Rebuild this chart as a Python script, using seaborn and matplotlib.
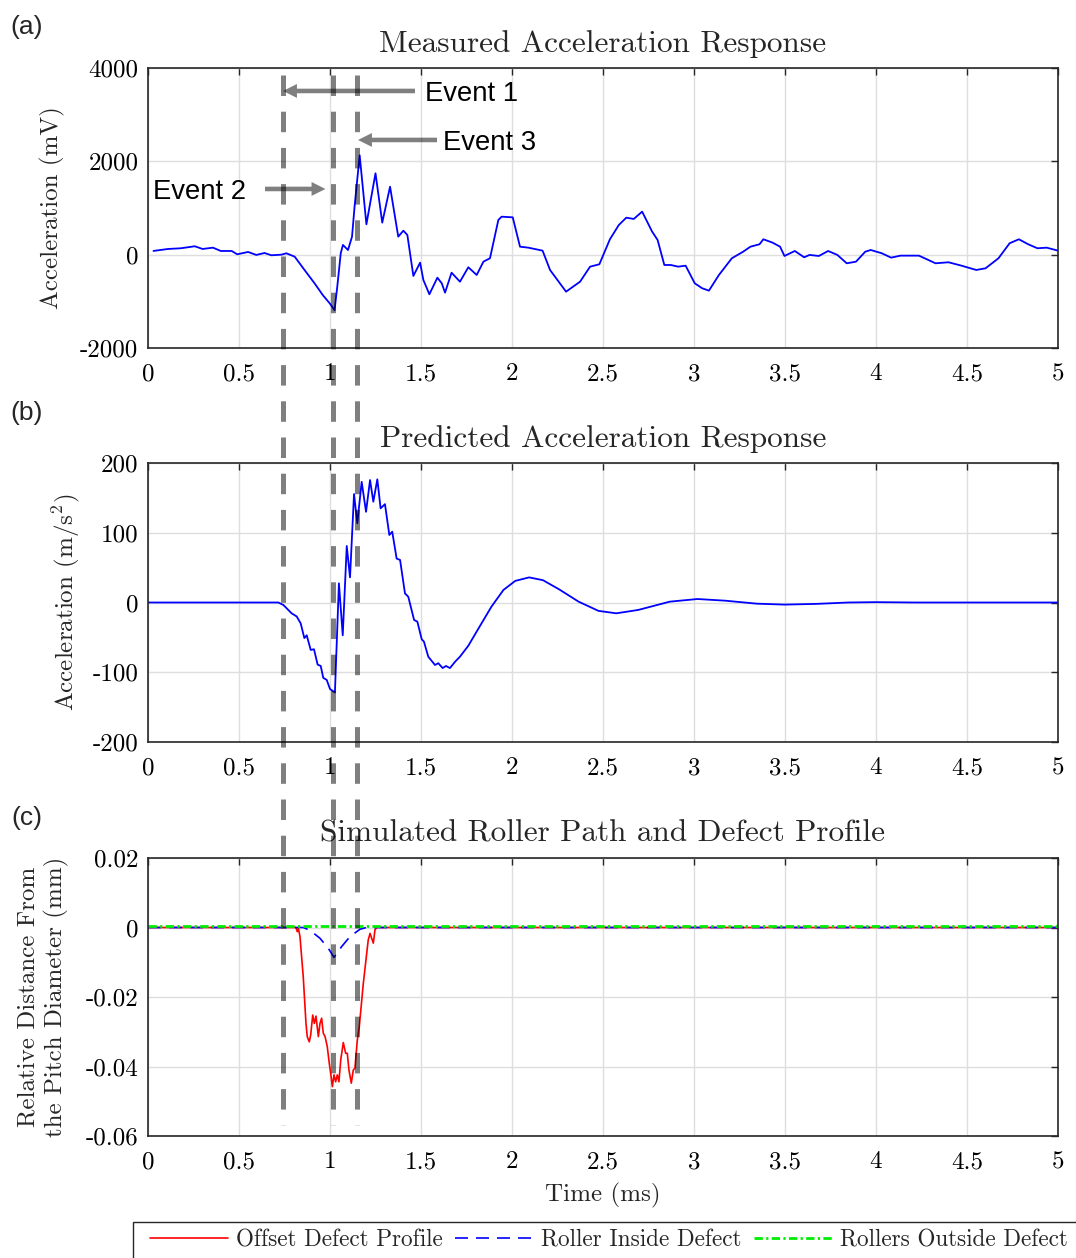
import numpy as np
import pandas as pd
import matplotlib
matplotlib.use("Agg")
import matplotlib.pyplot as plt
import seaborn as sns
from matplotlib.lines import Line2D
from matplotlib.patches import Rectangle

# ---------------- data ----------------
xticks = [0, 0.5, 1, 1.5, 2, 2.5, 3, 3.5, 4, 4.5, 5]
xtick_labels = ["0", "0.5", "1", "1.5", "2", "2.5", "3", "3.5", "4", "4.5", "5"]

meas_yticks = [-2000, 0, 2000, 4000]
meas_ytick_labels = ["-2000", "0", "2000", "4000"]
pred_yticks = [-200, -100, 0, 100, 200]
pred_ytick_labels = ["-200", "-100", "0", "100", "200"]
path_yticks = [-0.06, -0.04, -0.02, 0, 0.02]
path_ytick_labels = ["-0.06", "-0.04", "-0.02", "0", "0.02"]

# (a) measured acceleration (mV)
meas_t = [0.03, 0.11, 0.18, 0.257, 0.30, 0.357, 0.40, 0.46, 0.49, 0.55, 0.595, 0.64, 0.678,
          0.733, 0.76, 0.806, 0.86, 0.915, 0.96, 0.998, 1.025, 1.04, 1.059, 1.071, 1.099,
          1.121, 1.135, 1.163, 1.2, 1.25, 1.287, 1.33, 1.375, 1.403, 1.425, 1.458, 1.495,
          1.513, 1.546, 1.59, 1.614, 1.632, 1.668, 1.714, 1.76, 1.806, 1.843, 1.879, 1.925,
          1.943, 2.004, 2.044, 2.09, 2.168, 2.209, 2.297, 2.374, 2.429, 2.48, 2.538, 2.587,
          2.628, 2.669, 2.715, 2.77, 2.8, 2.837, 2.872, 2.913, 2.954, 3.004, 3.045, 3.082,
          3.137, 3.208, 3.27, 3.31, 3.36, 3.381, 3.432, 3.473, 3.497, 3.554, 3.605, 3.635,
          3.686, 3.737, 3.788, 3.839, 3.89, 3.941, 3.971, 4.032, 4.083, 4.134, 4.236, 4.327,
          4.398, 4.47, 4.551, 4.602, 4.673, 4.734, 4.785, 4.836, 4.887, 4.938, 5.0]
meas_v = [80, 122, 137, 180, 122, 150, 79, 79, 8, 58, -6, 36, -13,
          0, 30, -43, -328, -613, -864, -1041, -1190, -685, 30, 208, 100,
          386, 1029, 2130, 650, 1744, 686, 1457, 386, 514, 422, -456, -171,
          -542, -849, -493, -613, -814, -386, -579, -270, -435, -150, -77, 744,
          814, 800, 171, 150, 86, -328, -793, -579, -257, -206, 330, 636,
          793, 765, 922, 493, 315, -221, -221, -257, -236, -613, -720, -771,
          -435, -77, 64, 171, 223, 330, 257, 171, -28, 79, -56, -6,
          -28, 79, -6, -185, -150, 64, 100, 30, -64, -21, -21, -185,
          -163, -236, -328, -292, -77, 244, 330, 223, 137, 150, 86]

# (b) predicted acceleration (m/s^2)
pred_t = [0.0, 0.716, 0.744, 0.789, 0.817, 0.839, 0.859, 0.872, 0.894, 0.912, 0.932, 0.949,
          0.963, 0.982, 1.0, 1.027, 1.049, 1.07, 1.092, 1.11, 1.132, 1.15, 1.174, 1.198,
          1.22, 1.238, 1.26, 1.278, 1.302, 1.326, 1.342, 1.366, 1.385, 1.412, 1.43, 1.462,
          1.48, 1.504, 1.516, 1.54, 1.577, 1.595, 1.619, 1.637, 1.659, 1.687, 1.714, 1.76,
          1.811, 1.887, 1.953, 2.018, 2.094, 2.17, 2.258, 2.366, 2.475, 2.573, 2.693, 2.867,
          3.019, 3.172, 3.346, 3.498, 3.672, 3.847, 3.999, 4.216, 5.0]
pred_v = [0, 0, -3.6, -15.5, -20, -30, -51, -47, -68, -67, -89, -91,
          -108, -111, -124, -129, 27.5, -47, 81, 36, 155.5, 113.5, 173, 130,
          175.6, 144.5, 176.6, 135, 141, 96.8, 101.5, 63, 61, 13, 8.3, -25,
          -27.5, -52.8, -56, -77.7, -89.6, -87, -94, -91, -94, -85, -77.7, -62,
          -39.4, -6, 18, 31, 36, 32, 19, 1.2, -12, -15.5, -10.7, 1.2,
          5, 2.6, -1.7, -3, -2, 0, 0.5, 0, 0]

# (c) roller path and defect profile (mm)
offset_t = [0.0, 0.813, 0.82, 0.826, 0.835, 0.853, 0.868, 0.875, 0.886, 0.894, 0.905, 0.914,
            0.923, 0.936, 0.945, 0.954, 0.963, 0.973, 0.985, 0.996, 1.005, 1.013, 1.022,
            1.031, 1.040, 1.049, 1.059, 1.073, 1.086, 1.095, 1.104, 1.117, 1.128, 1.137,
            1.15, 1.161, 1.183, 1.21, 1.22, 1.229, 1.238, 1.247, 1.256, 5.0]
offset_v = [0, 0, -0.0012, -0.0002, -0.0026, -0.0142, -0.0276, -0.0314, -0.0329, -0.0309,
            -0.0252, -0.0276, -0.0255, -0.0314, -0.0276, -0.0261, -0.0304, -0.0314, -0.0343,
            -0.0391, -0.0424, -0.0458, -0.0424, -0.0444, -0.0424, -0.0444, -0.0381, -0.0331,
            -0.0362, -0.0362, -0.0410, -0.0448, -0.0410, -0.0405, -0.0324, -0.0285, -0.0161,
            -0.0036, -0.0017, -0.0031, -0.0045, -0.0007, 0, 0]
inside_t = [0.0, 0.853, 0.89, 0.945, 0.991, 1.022, 1.064, 1.11, 1.165, 1.2, 5.0]
inside_v = [0, 0, -0.0008, -0.0031, -0.006, -0.0086, -0.0055, -0.0026, -0.0005, 0, 0]
outside_t = [0.0, 5.0]
outside_v = [0.0004, 0.0004]

legend_labels = ["Offset Defect Profile", "Roller Inside Defect", "Rollers Outside Defect"]

event_times = [0.74, 1.018, 1.148]
event_names = ["Event 1", "Event 2", "Event 3"]
event_arrow_tail = [1.467, 0.643, 1.588]
event_arrow_tip = [0.742, 0.975, 1.154]
event_arrow_y = [3508, 1408, 2458]
event_text_x = [1.522, 0.027, 1.621]

# ---------------- style ----------------
sns.set_theme(style="white")
plt.rcParams["font.family"] = ["cmr10"]
plt.rcParams["mathtext.fontset"] = "cm"
plt.rcParams["axes.unicode_minus"] = False
plt.rcParams["axes.formatter.use_mathtext"] = True

W, H = 1076, 1258
fig = plt.figure(figsize=(W / 100, H / 100), dpi=100)
fig.patch.set_facecolor("white")


def add_ax(top, bottom):
    return fig.add_axes([148 / W, 1 - bottom / H, 910 / W, (bottom - top) / H])


ax1 = add_ax(68, 348)
ax2 = add_ax(463, 742)
ax3 = add_ax(858, 1136)


def style(ax, ylim, yt, ytl):
    ax.set_xlim(0, 5)
    ax.set_ylim(*ylim)
    ax.set_xticks(xticks)
    ax.set_xticklabels(xtick_labels)
    ax.set_yticks(yt)
    ax.set_yticklabels(ytl)
    ax.grid(True, color="#dedede", linewidth=1.0)
    ax.set_axisbelow(True)
    ax.tick_params(axis="both", direction="in", length=5, width=1.0, top=True, right=True,
                   labelsize=18, color="#262626", labelcolor="black")
    ax.tick_params(axis="x", pad=11)
    ax.tick_params(axis="y", pad=7)
    for s in ax.spines.values():
        s.set_visible(True)
        s.set_color("#262626")
        s.set_linewidth(1.2)
    ax.set_xlabel("")
    ax.set_ylabel("")
    ax.set_facecolor("white")


sns.lineplot(x=meas_t, y=meas_v, ax=ax1, color="#0000ff", linewidth=1.3,
             estimator=None, sort=False)
sns.lineplot(x=pred_t, y=pred_v, ax=ax2, color="#0000ff", linewidth=1.3,
             estimator=None, sort=False)
sns.lineplot(x=offset_t, y=offset_v, ax=ax3, color="#ff0000", linewidth=1.2,
             estimator=None, sort=False, label=legend_labels[0])
sns.lineplot(x=inside_t, y=inside_v, ax=ax3, color="#0000ff", linewidth=1.2,
             estimator=None, sort=False, label=legend_labels[1], linestyle=(0, (7.8, 4.8)))
sns.lineplot(x=outside_t, y=outside_v, ax=ax3, color="#00ee00", linewidth=2.0,
             estimator=None, sort=False, label=legend_labels[2],
             linestyle=(0, (3.0, 1.2, 0.8, 1.2)))

style(ax1, (-2000, 4000), meas_yticks, meas_ytick_labels)
style(ax2, (-200, 200), pred_yticks, pred_ytick_labels)
style(ax3, (-0.06, 0.02), path_yticks, path_ytick_labels)

handles, labels = ax3.get_legend_handles_labels()
if ax3.get_legend() is not None:
    ax3.get_legend().remove()

# titles
for ax, title, h in [(ax1, "Measured Acceleration Response", 280),
                     (ax2, "Predicted Acceleration Response", 279),
                     (ax3, "Simulated Roller Path and Defect Profile", 278)]:
    ax.text(0.5, 1 + 24 / h, title, transform=ax.transAxes, ha="center", va="center",
            fontsize=22.5)

# y labels
ax1.text(-96 / 910, 0.5, "Acceleration (mV)", transform=ax1.transAxes, rotation=90,
         ha="center", va="center", fontsize=18)
ax2.text(-82 / 910, 0.5, "Acceleration (m/s$^2$)", transform=ax2.transAxes, rotation=90,
         ha="center", va="center", fontsize=18)
ax3.text(-105 / 910, 0.5, "Relative Distance From\nthe Pitch Diameter (mm)",
         transform=ax3.transAxes, rotation=90, ha="center", va="center", fontsize=18,
         linespacing=1.25)
ax3.text(0.5, -(1195 - 1136) / 278, "Time (ms)", transform=ax3.transAxes,
         ha="center", va="center", fontsize=18)

# panel letters
for lab, yy in [("(a)", 27), ("(b)", 413), ("(c)", 818)]:
    fig.text(27 / W, 1 - yy / H, lab, family="Liberation Sans", fontsize=19,
             ha="center", va="center")

# event dashed lines across all panels
inv = fig.transFigure.inverted()
for t in event_times:
    x0, y0 = inv.transform(ax1.transData.transform((t, 3850)))
    x1, y1 = inv.transform(ax3.transData.transform((t, -0.0568)))
    fig.add_artist(Line2D([x0, x1], [y0, y1], transform=fig.transFigure, color="black",
                          alpha=0.5, linewidth=3.6, linestyle=(0, (4.1, 3.14)),
                          dash_capstyle="butt", zorder=10))

# event arrows and labels
for name, tail, tip, yy, tx in zip(event_names, event_arrow_tail, event_arrow_tip,
                                   event_arrow_y, event_text_x):
    ax1.annotate("", xy=(tip, yy), xytext=(tail, yy), annotation_clip=False,
                 arrowprops=dict(width=3.3, headwidth=10, headlength=10, shrink=0,
                                 facecolor=(0, 0, 0, 0.5), edgecolor="none"))
    ax1.text(tx, yy, name, family="Liberation Sans", fontsize=19.8, ha="left",
             va="center_baseline", color="black", zorder=11)

# legend
fig.add_artist(Rectangle((133 / W, -0.02), 1.0, (1258 - 1222) / H + 0.02,
                         transform=fig.transFigure, facecolor="white",
                         edgecolor="#262626", linewidth=1.0, zorder=1))
leg = fig.legend(handles, labels, loc="center left", bbox_to_anchor=(150 / W, 1 - 1240 / H),
                 ncol=3, frameon=False, handlelength=3.36, handletextpad=0.33,
                 columnspacing=0.56, borderpad=0, borderaxespad=0, fontsize=16.7)
leg.set_zorder(2)

fig.savefig("out.png", dpi=100, facecolor="white")
